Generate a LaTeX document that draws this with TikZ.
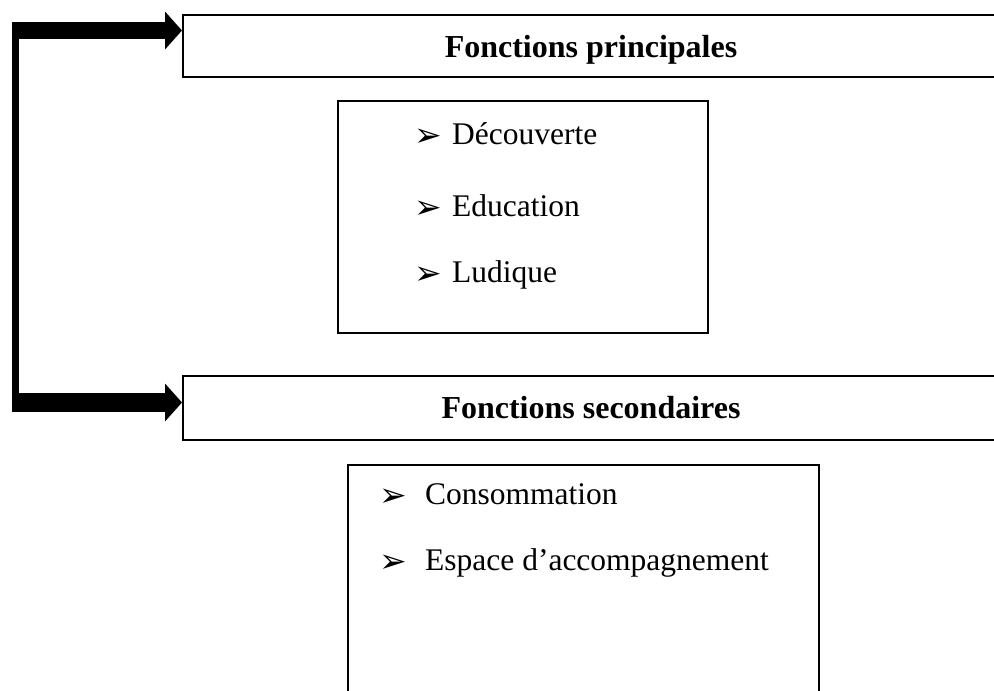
\documentclass[tikz,border=0pt]{standalone}
\usepackage{fontspec}
\setmainfont{Liberation Serif}
\newfontfamily\dejavu{DejaVu Sans}
\usetikzlibrary{arrows.meta}
\begin{document}
\begin{tikzpicture}[x=1pt,y=-1pt]
\useasboundingbox (0,0) rectangle (994,691);
\tikzset{
  frame/.style={draw,line width=2pt,inner sep=0pt,anchor=north west},
  title/.style={font=\fontsize{32}{38}\selectfont\bfseries,anchor=base,inner sep=0pt},
  item/.style={font=\fontsize{31.5}{38}\selectfont,anchor=base west,inner sep=0pt},
  bul/.style={font=\dejavu\fontsize{33}{38}\selectfont,anchor=base west,inner sep=0pt},
  fat/.style={line width=#1, -{Triangle[length=17pt,width=37pt]}}
}
% title boxes (right side runs past the page edge)
\node[frame,minimum width=818pt,minimum height=62pt] (fp) at (182,14) {};
\node[title] (tp) at (591,57) {Fonctions principales};
\node[frame,minimum width=818pt,minimum height=64pt] (fs) at (182,375) {};
\node[title] (ts) at (591,418) {Fonctions secondaires};
% list boxes
\node[frame,minimum width=370pt,minimum height=232pt] (lp) at (337,100) {};
\node[frame,minimum width=471pt,minimum height=240pt] (ls) at (347,464) {};
% items
\node[bul] (b1) at (414,146) {➢}; \node[item] (i1) at (452,144) {Découverte};
\node[bul] (b2) at (414,218) {➢}; \node[item] (i2) at (452,216) {Education};
\node[bul] (b3) at (414,284) {➢}; \node[item] (i3) at (452,282) {Ludique};
\node[bul] (b4) at (379,506) {➢}; \node[item] (i4) at (425,504) {Consommation};
\node[bul] (b5) at (379,572) {➢}; \node[item] (i5) at (425,570) {Espace d’accompagnement};
% connector
\coordinate (a1) at (12,30.5);
\coordinate (a2) at (12,402.5);
\coordinate (v1) at (15.5,22);
\coordinate (v2) at (15.5,412);
\draw[line width=7pt] (v1) -- (v2);
\draw[fat=17pt] (a1) -- (a1 -| fp.west);
\draw[fat=19pt] (a2) -- (a2 -| fs.west);
\end{tikzpicture}
\end{document}
